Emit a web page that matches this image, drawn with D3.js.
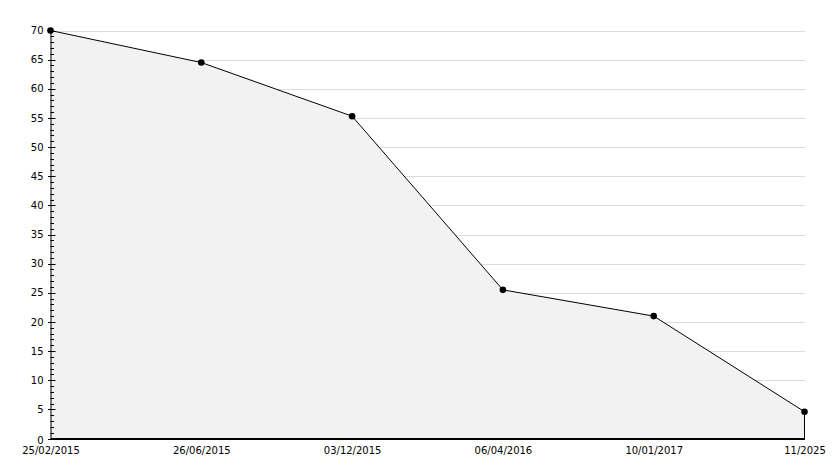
<!DOCTYPE html>
<html><head><meta charset="utf-8">
<script src="https://cdn.jsdelivr.net/npm/d3@7"></script>
<style>body{margin:0;background:#fff}svg{display:block}</style>
</head><body><svg id="c" width="834" height="468"></svg>
<script>
const categories = ["25/02/2015","26/06/2015","03/12/2015","06/04/2016","10/01/2017","11/2025"];
const values = [70, 64.5, 55.3, 25.5, 21, 4.6];
const yTicks = [0,5,10,15,20,25,30,35,40,45,50,55,60,65,70];

const svg = d3.select("#c");
const x = d3.scalePoint().domain(categories).range([50.5, 804.5]);
const y = d3.scaleLinear().domain([0,70]).range([438.5, 30.5]);
const font = "DejaVu Sans, Verdana, sans-serif";

// gridlines
svg.append("g").selectAll("line").data(yTicks.filter(d=>d>0)).join("line")
  .attr("x1",50.5).attr("x2",805).attr("y1",d=>Math.round(y(d))+0.5).attr("y2",d=>Math.round(y(d))+0.5)
  .attr("stroke","#dcdcdc").attr("stroke-width",1);

const data = categories.map((c,i)=>({c, v: values[i]}));
// area
const area = d3.area().x(d=>x(d.c)).y0(y(0)).y1(d=>y(d.v));
svg.append("path").datum(data).attr("d",area).attr("fill","#f2f2f2").attr("stroke","none");
const line = d3.line().x(d=>x(d.c)).y(d=>y(d.v));
svg.append("path").datum(data).attr("d",line).attr("fill","none").attr("stroke","#000").attr("stroke-width",1);
// right edge
svg.append("line").attr("x1",x(categories[5])).attr("x2",x(categories[5]))
  .attr("y1",y(values[5])).attr("y2",y(0)).attr("stroke","#000");

// y axis
const yAxis = d3.axisLeft(y).tickValues(yTicks).tickSize(0).tickPadding(7);
const gy = svg.append("g").attr("transform","translate(50.5,0)").call(yAxis);
gy.select(".domain").attr("stroke","#000");
gy.selectAll("text").attr("font-family",font).attr("font-size",10).attr("fill","#000")
  .attr("dy", d => d===0 ? "0.5em" : "0.32em");
// minor ticks
const minor = d3.range(0,71,1);
svg.append("g").selectAll("line").data(minor).join("line")
  .attr("x1", d=> d%5===0 ? 48 : 50.5).attr("x2", d=> d%5===0 ? 55.5 : 54)
  .attr("y1",d=>Math.round(y(d))+0.5).attr("y2",d=>Math.round(y(d))+0.5)
  .attr("stroke","#000");

// x axis
const xAxis = d3.axisBottom(x).tickSize(0).tickPadding(8);
const gx = svg.append("g").attr("transform","translate(0,438.5)").call(xAxis);
gx.select(".domain").attr("stroke","#000").attr("stroke-width",2);
gx.selectAll("text").attr("font-family",font).attr("font-size",10).attr("fill","#000");

// markers
svg.append("g").selectAll("path").data(data).join("path")
  .attr("transform",d=>`translate(${x(d.c)},${y(d.v)})`)
  .attr("d", d3.symbol().type(d3.symbolCircle).size(34))
  .attr("fill","#000");
</script></body></html>
